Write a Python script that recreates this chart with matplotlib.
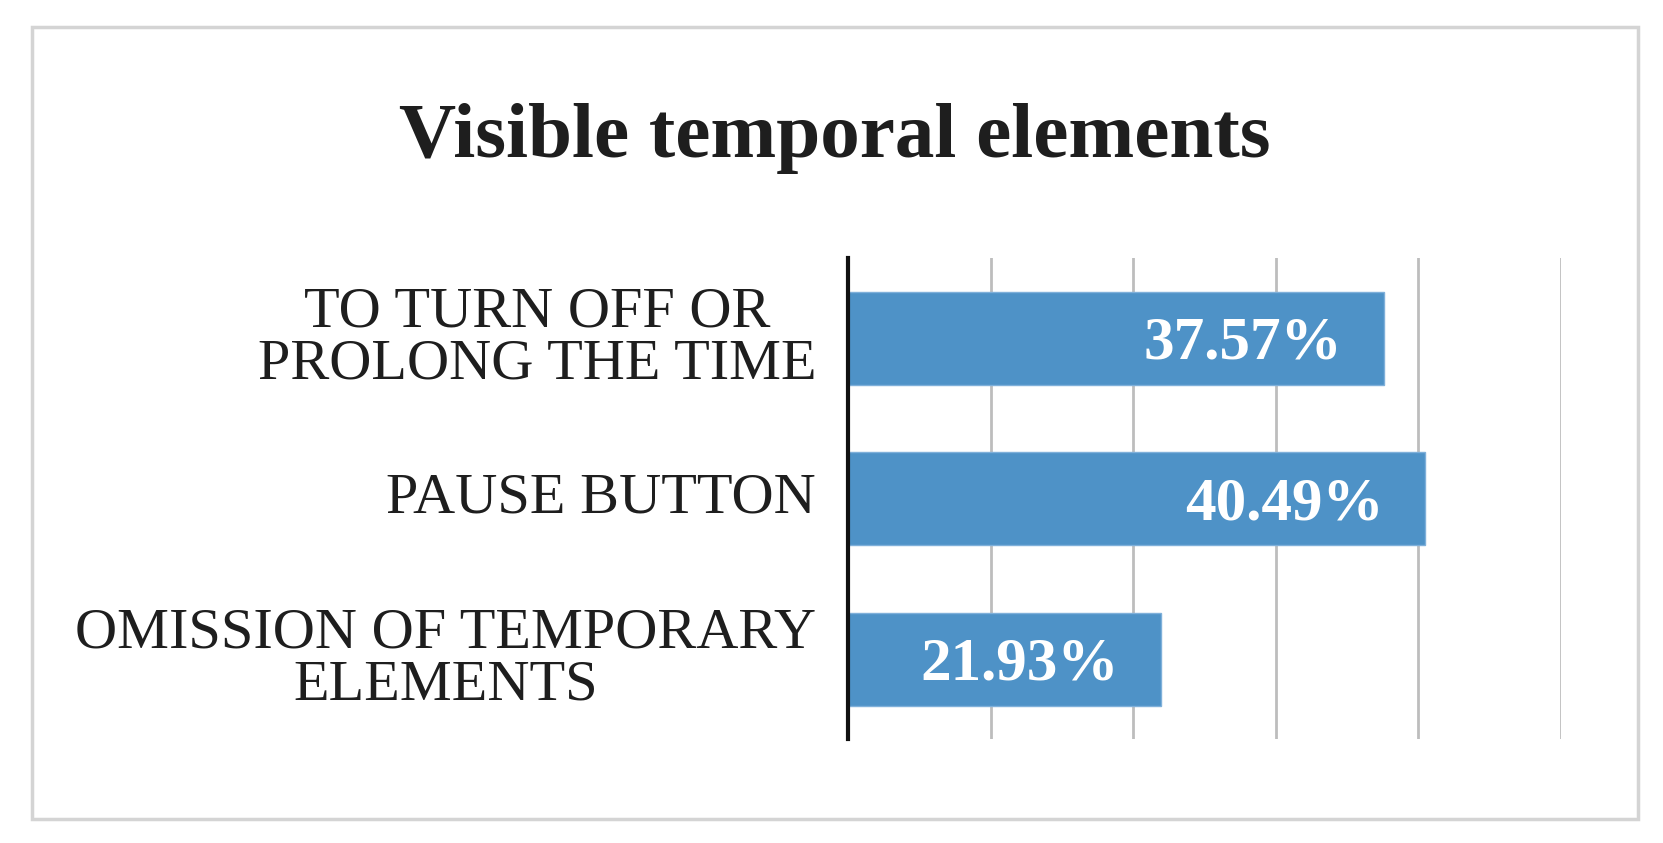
#!/usr/bin/env python3
"""Horizontal bar chart: visible temporal elements (share of responses)."""
import matplotlib
matplotlib.use('Agg')
import matplotlib.pyplot as plt
from matplotlib.patches import Rectangle

# data, listed bottom to top as barh draws them
categories = ['OMISSION OF TEMPORARY\nELEMENTS', 'PAUSE BUTTON', 'TO TURN OFF OR\nPROLONG THE TIME']
values = [21.93, 40.49, 37.57]
x_ticks = [0, 10, 20, 30, 40, 50]

BAR_COLOR = '#4e92c7'
SERIF = ['Liberation Serif', 'DejaVu Serif']


def main():
    fig = plt.figure(figsize=(16.63, 8.43), dpi=100)
    fig.patch.set_facecolor('white')

    # light grey chart-area border
    fig.add_artist(Rectangle((0.019, 0.028), 0.966, 0.940, transform=fig.transFigure,
                             fill=False, edgecolor='#d4d4d4', linewidth=2.5))

    ax = fig.add_axes([0.510, 0.123, 0.4287, 0.571])
    pos = list(range(len(categories)))
    ax.barh(pos, values, height=0.58, color=BAR_COLOR, edgecolor='#7fb0da',
            linewidth=1.0, zorder=3)

    ax.set_xlim(x_ticks[0], x_ticks[-1])
    ax.set_ylim(-0.5, len(categories) - 0.5)
    ax.set_xticks(x_ticks)
    ax.set_xticklabels([])
    ax.set_yticks(pos)
    ax.set_yticklabels([])
    ax.tick_params(length=0)
    ax.grid(axis='x', color='#bdbdbd', linewidth=2.0, zorder=0)
    for side in ['top', 'right', 'bottom']:
        ax.spines[side].set_visible(False)
    ax.spines['left'].set_linewidth(3.0)
    ax.spines['left'].set_color('#111111')
    ax.spines['left'].set_zorder(4)

    # category labels, centred lines, right-aligned block
    for p, cat in zip(pos, categories):
        ax.annotate(cat, xy=(0, p), xycoords='data', xytext=(-23, 0),
                    textcoords='offset points', ha='right', va='center',
                    multialignment='center', fontsize=42, family=SERIF,
                    color='#1e1e1e', linespacing=1.0)

    # value labels inside bar ends
    for p, v in zip(pos, values):
        ax.annotate(f'{v:.2f}%', xy=(v, p), xytext=(-30, -4),
                    textcoords='offset points', ha='right', va='center',
                    fontsize=44, fontweight='bold', family=SERIF,
                    color='white', zorder=5)

    fig.text(0.502, 0.836, 'Visible temporal elements', ha='center', va='center',
             fontsize=57, fontweight='bold', family=SERIF, color='#1e1e1e')

    fig.savefig('out.png', dpi=100, facecolor='white')
    plt.close(fig)


if __name__ == '__main__':
    main()
